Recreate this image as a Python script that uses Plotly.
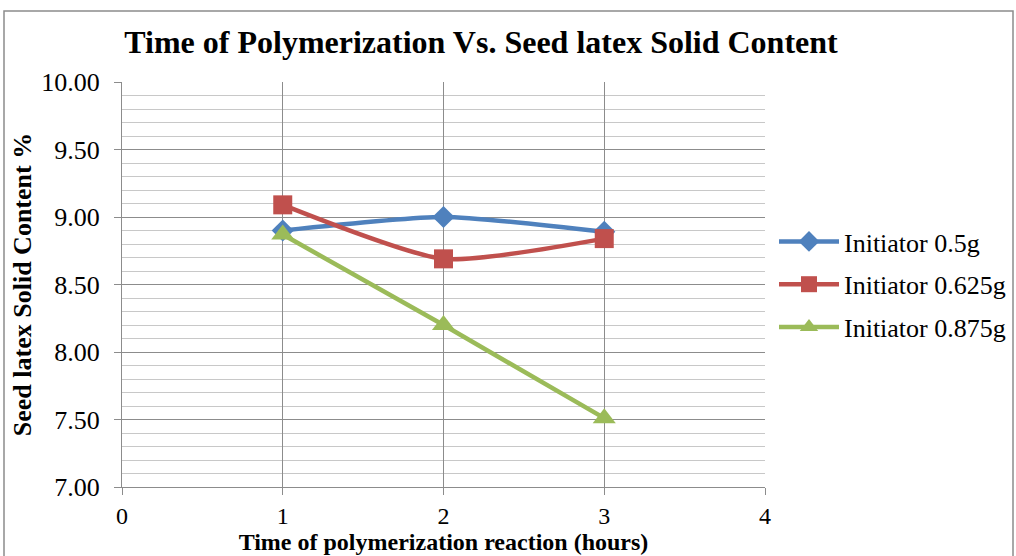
import plotly.graph_objects as go

# ── data ──────────────────────────────────────────────
hours = [1, 2, 3]
series_names = ["Initiator 0.5g", "Initiator 0.625g", "Initiator 0.875g"]
solid_05 = [8.90, 9.00, 8.89]
solid_0625 = [9.09, 8.69, 8.84]
solid_0875 = [8.87, 8.20, 7.51]
y_ticks = [7.0, 7.5, 8.0, 8.5, 9.0, 9.5, 10.0]
y_labels = ["7.00", "7.50", "8.00", "8.50", "9.00", "9.50", "10.00"]
x_ticks = [0, 1, 2, 3, 4]

styles = [
    ("#4F81BD", "diamond", 17),
    ("#C0504D", "square", 19),
    ("#9BBB59", "triangle-up", 20),
]

FONT = "Liberation Serif"

fig = go.Figure()
for name, vals, (col, sym, sz) in zip(series_names, [solid_05, solid_0625, solid_0875], styles):
    fig.add_trace(go.Scatter(
        x=hours, y=vals, name=name, legendgroup=name,
        mode="lines+markers",
        line=dict(color=col, width=4.5, shape="spline", smoothing=0.6),
        marker=dict(symbol=sym, size=sz, color=col),
    ))

fig.update_layout(
    width=1016, height=556,
    margin=dict(l=122, r=251, t=82, b=69, autoexpand=False),
    paper_bgcolor="white",
    plot_bgcolor="white",
    font=dict(family=FONT, size=26, color="black"),
    title=dict(
        text="<b>Time of Polymerization Vs. Seed latex Solid Content</b>",
        x=481 / 1016, xanchor="center", y=1 - 42 / 556, yanchor="middle",
        font=dict(size=32, family=FONT),
    ),
    xaxis=dict(
        range=[0, 4], tickvals=x_ticks,
        showgrid=True, gridcolor="#8c8c8c", gridwidth=1,
        showline=True, linecolor="#8c8c8c", linewidth=1,
        ticks="outside", ticklen=7, tickcolor="#8c8c8c",
        zeroline=False, automargin=False,
        tickfont=dict(size=24, family=FONT),
        ticklabelstandoff=0,
        title=dict(text="<b>Time of polymerization reaction (hours)</b>",
                   font=dict(size=24, family=FONT), standoff=5),
    ),
    yaxis=dict(
        range=[7, 10], tickvals=y_ticks, ticktext=y_labels,
        showgrid=True, gridcolor="#8c8c8c", gridwidth=1,
        showline=True, linecolor="#8c8c8c", linewidth=1,
        ticks="outside", ticklen=7, tickcolor="#8c8c8c",
        zeroline=False, automargin=False,
        tickfont=dict(size=26, family=FONT),
        ticklabelstandoff=9,
        minor=dict(dtick=0.1, showgrid=True, gridcolor="#c8c8c8", gridwidth=1),
        title=dict(text="<b>Seed latex Solid Content %</b>",
                   font=dict(size=26, family=FONT), standoff=2),
    ),
    legend=dict(
        x=(774 - 122) / 643, xanchor="left",
        y=1 - (218 - 82) / 405, yanchor="top",
        font=dict(size=26, family=FONT),
        itemwidth=60,
        tracegroupgap=6,
        bgcolor="rgba(0,0,0,0)",
    ),
    shapes=[dict(
        type="rect", xref="paper", yref="paper",
        x0=(4 - 122) / 643, x1=(1013 - 122) / 643,
        y0=(487 - 560) / 405, y1=(487 - 11) / 405,
        line=dict(color="#8c8c8c", width=1.5),
        fillcolor="rgba(0,0,0,0)", layer="below",
    )],
)

fig.write_html("out.html", config={"displayModeBar": False},
               post_script="document.body.style.margin='0';")
